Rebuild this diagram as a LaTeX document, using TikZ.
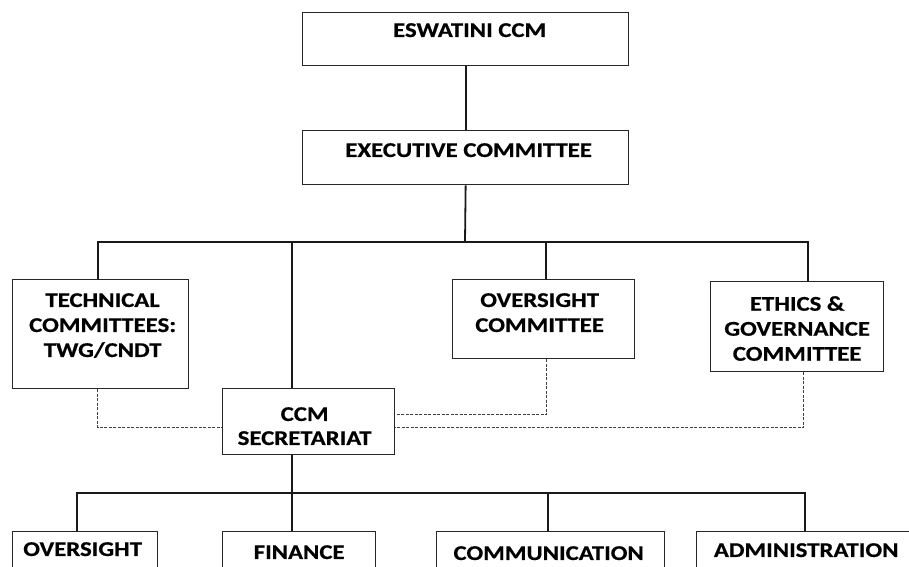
\documentclass[tikz,border=0pt]{standalone}
\usepackage{fontspec}
\setmainfont{Carlito}[FakeStretch=1.18, BoldFeatures={FakeBold=0.6}]
\begin{document}
\begin{tikzpicture}[x=1pt,y=-1pt,
  orgbox/.style={draw=black!85, line width=1.3pt, fill=white, inner sep=0pt, anchor=north west},
  txt/.style={font=\fontsize{21}{25}\selectfont\bfseries, align=center, inner sep=0pt, anchor=north, text=black},
  conn/.style={draw=black!90, line width=1.8pt},
  dashconn/.style={draw=black!75, line width=1pt, dash pattern=on 3pt off 1.5pt}]
\useasboundingbox (0,0) rectangle (909,566);
\fill[white] (0,0) rectangle (909,566);
\clip (0,0) rectangle (909,566);

% boxes
\node[orgbox, minimum width=326pt, minimum height=53pt] (ccm) at (302,12) {};
\node[orgbox, minimum width=326pt, minimum height=54pt] (exec) at (302,130) {};
\node[orgbox, minimum width=176pt, minimum height=109pt] (tech) at (12,279) {};
\node[orgbox, minimum width=182pt, minimum height=79pt] (ovc) at (452,279) {};
\node[orgbox, minimum width=173pt, minimum height=90pt] (eth) at (710,281) {};
\node[orgbox, minimum width=172pt, minimum height=66pt] (sec) at (222,388) {};
\node[orgbox, minimum width=145pt, minimum height=70pt] (ovs) at (12,531) {};
\node[orgbox, minimum width=153pt, minimum height=70pt] (fin) at (222,531) {};
\node[orgbox, minimum width=228pt, minimum height=70pt] (com) at (436,531) {};
\node[orgbox, minimum width=213pt, minimum height=70pt] (adm) at (696,531) {};

% texts
\node[txt] at ([xshift=4pt,yshift=-11pt]ccm.north) {ESWATINI CCM};
\node[txt] at ([xshift=3pt,yshift=-13pt]exec.north) {EXECUTIVE COMMITTEE};
\node[txt] at ([xshift=2pt,yshift=-14pt]tech.north) {TECHNICAL\\COMMITTEES:\\TWG/CNDT};
\node[txt] at ([xshift=-4pt,yshift=-14pt]ovc.north) {OVERSIGHT\\COMMITTEE};
\node[txt] at ([yshift=-15pt]eth.north) {ETHICS \&\\GOVERNANCE\\COMMITTEE};
\node[txt, font=\fontsize{21}{24}\selectfont\bfseries] at ([xshift=-4pt,yshift=-19pt]sec.north) {CCM\\SECRETARIAT};
\node[txt] at ([xshift=-2.5pt,yshift=-11pt]ovs.north) {OVERSIGHT};
\node[txt] at ([yshift=-14pt]fin.north) {FINANCE};
\node[txt] at ([xshift=-2pt,yshift=-15pt]com.north) {COMMUNICATION};
\node[txt] at ([xshift=3pt,yshift=-12pt]adm.north) {ADMINISTRATION};

% solid connectors
\coordinate (t1) at (465,242);
\coordinate (t2) at (292,242);
\coordinate (t3) at (546,242);
\draw[conn] (ccm.south) -- (exec.north);
\draw[conn] (exec.south) -- (t1);
\draw[conn] ([xshift=-3pt]tech.north) |- (t1);
\draw[conn] ([xshift=10.5pt]eth.north) |- (t1);
\draw[conn] (t2) -- (t2 |- sec.north);
\draw[conn] (t3) -- (t3 |- ovc.north);

\coordinate (b1) at (292,493);
\draw[conn] (b1 |- sec.south) -- (b1 |- fin.north);
\draw[conn] ([xshift=-8.5pt]ovs.north) |- (b1);
\draw[conn] ([xshift=1.5pt]adm.north) |- (b1);
\draw[conn] ([xshift=-3pt]com.north) -- ([xshift=-3pt]com.north |- b1);

% dashed connectors
\draw[dashconn] ([xshift=-3pt]tech.south) |- ([yshift=-6pt]sec.west);
\draw[dashconn] ([xshift=3pt]ovc.south) |- ([yshift=7pt]sec.east);
\draw[dashconn] ([xshift=6.5pt]eth.south) |- ([yshift=-6pt]sec.east);
\end{tikzpicture}
\end{document}
